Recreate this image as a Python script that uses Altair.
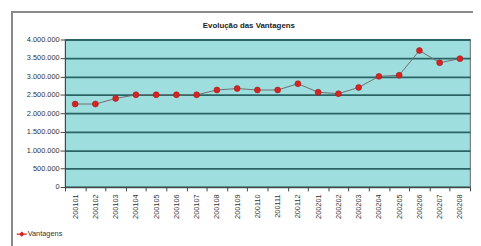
import altair as alt
import pandas as pd

periods = ["200101", "200102", "200103", "200104", "200105", "200106", "200107",
           "200108", "200109", "200110", "200111", "200112", "200201", "200202",
           "200203", "200204", "200205", "200206", "200207", "200208"]
values = [2250000, 2250000, 2400000, 2500000, 2500000, 2500000, 2500000,
          2630000, 2670000, 2630000, 2630000, 2800000, 2570000, 2530000,
          2700000, 3000000, 3030000, 3700000, 3370000, 3480000]
series = ["Vantagens"] * len(periods)
y_ticks = [0, 500000, 1000000, 1500000, 2000000, 2500000, 3000000, 3500000, 4000000]
chart_title = "Evolução das Vantagens"

df = pd.DataFrame({"Periodo": periods, "Valor": values, "Serie": series})

FONT = "Liberation Sans"
lbl_expr = "replace(replace(format(datum.value, ','), ',', '.'), ',', '.')"

x_enc = alt.X("Periodo:N", sort=periods, title=None,
              scale=alt.Scale(paddingInner=0, paddingOuter=0),
              axis=alt.Axis(labelAngle=-90, labelFontSize=7.5, labelColor="#333",
                            labelFont=FONT, tickBand="extent", tickSize=4,
                            tickColor="#444", domainColor="#444", labelPadding=3,
                            labelBaseline="middle", labelAlign="right"))
y_enc = alt.Y("Valor:Q", title=None,
              scale=alt.Scale(domain=[0, 4000000], nice=False),
              axis=alt.Axis(values=y_ticks, labelExpr=lbl_expr, labelFontSize=7.5,
                            labelColor="#333", labelFont=FONT, tickSize=5,
                            tickColor="#444", domainColor="#444",
                            grid=True, gridColor="#2B6464", gridWidth=1.8,
                            labelPadding=1))
legend_symbol = "M-1.6,0L1.6,0M0,-0.6L0.6,0L0,0.6L-0.6,0Z"
color_enc = alt.Color("Serie:N", scale=alt.Scale(range=["#D42424"]),
                      legend=alt.Legend(title=None, orient="none", legendX=-48,
                                        legendY=194, symbolType=legend_symbol,
                                        symbolSize=40, symbolStrokeWidth=1.2,
                                        labelFontSize=7.5, labelOffset=2,
                                        labelFont=FONT, labelColor="#333",
                                        symbolFillColor="#D42424",
                                        symbolStrokeColor="#D42424"))

border = alt.Chart(df).mark_rect(fill=None, stroke="#8A8A8A", strokeWidth=1.5, clip=False).encode(
    x=alt.value(-54), x2=alt.value(440), y=alt.value(-28), y2=alt.value(260))

title_df = pd.DataFrame({"t": [chart_title]})
title = alt.Chart(title_df).mark_text(font=FONT, fontSize=8, fontWeight="bold",
                                      color="#222", align="center", baseline="middle").encode(
    text="t:N", x=alt.value(187), y=alt.value(-14))

line = alt.Chart(df).mark_line(color="#6E6E6E", strokeWidth=1).encode(
    x=x_enc, y=y_enc)
pts = alt.Chart(df).mark_point(filled=True, size=36, shape="circle", opacity=1,
                               stroke="#A81818", strokeWidth=0.6).encode(
    x=x_enc, y=y_enc, color=color_enc)

chart = alt.layer(border, title, line, pts).properties(
    width=412, height=150,
    autosize=alt.AutoSizeParams(type="none"),
    padding={"left": 58, "top": 30, "right": 3, "bottom": 58},
    background="white",
).configure_view(fill="#9EDEDE", stroke="#7A7A7A", strokeWidth=1.2)

chart.save("out.html", embed_options={"renderer": "svg", "actions": False})
